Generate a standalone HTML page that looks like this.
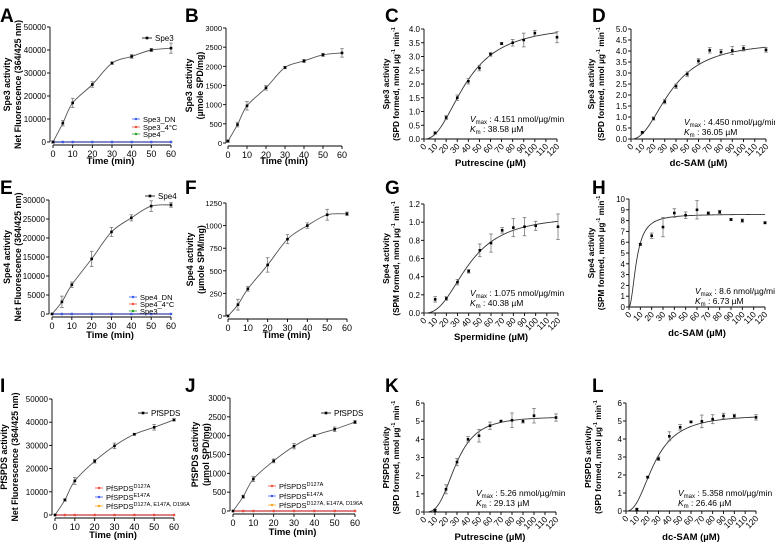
<!DOCTYPE html>
<html><head><meta charset="utf-8"><style>
html,body{margin:0;padding:0;background:#fff}
svg{display:block;font-family:"Liberation Sans",Arial,sans-serif}
</style></head><body>
<svg id="fig" width="775" height="543" viewBox="0 0 775 543" xmlns="http://www.w3.org/2000/svg"></svg>
<script>
// ---- data ----
const timeCats = [0,5,10,20,30,40,50,60];
const concCats = [10,20,30,40,50,60,70,80,90,100,120];
const aVals = [0,8200,17000,25000,34300,37200,40000,40800];
const aErr  = [500,1200,2000,1200,500,800,700,2200];
const bVals = [50,480,970,1440,1970,2140,2300,2350];
const bErr  = [30,60,110,60,30,40,40,110];
const cVals = [0.22,0.78,1.5,2.1,2.58,3.08,3.47,3.5,3.6,3.85,3.7];
const cErr  = [0.04,0.07,0.1,0.1,0.1,0.07,0.04,0.12,0.25,0.1,0.2];
const dVals = [0.3,0.93,1.7,2.4,2.95,3.55,4.03,3.95,4.02,4.12,4.05];
const dErr  = [0.05,0.07,0.1,0.1,0.1,0.1,0.12,0.12,0.18,0.12,0.1];
const eVals = [0,3200,7700,14500,21600,25300,28400,28700];
const eErr  = [0,1500,700,2000,1200,800,1400,600];
const fVals = [0,125,300,565,850,1000,1120,1130];
const fErr  = [0,60,25,80,50,30,60,20];
const gVals = [0.15,0.16,0.34,0.46,0.69,0.77,0.91,0.94,0.95,0.96,0.95];
const gErr  = [0.03,0.02,0.03,0.02,0.07,0.1,0.03,0.1,0.1,0.05,0.14];
const hVals = [5.8,6.6,7.4,8.7,8.5,9.0,8.7,8.8,8.1,8.0,7.8];
const hErr  = [0.1,0.25,0.9,0.4,0.3,0.85,0.1,0.15,0.1,0.15,0.1];
const iVals = [0,6500,14700,23200,29800,34800,37800,41000];
const iErr  = [0,500,1500,800,1200,400,1200,500];
const jVals = [0,380,850,1330,1720,2000,2170,2360];
const jErr  = [0,40,70,50,70,20,60,40];
const kVals = [0.1,1.25,2.75,4.0,4.2,4.75,5.0,5.05,5.0,5.3,5.2];
const kErr  = [0.05,0.25,0.2,0.15,0.35,0.2,0.05,0.4,0.1,0.4,0.2];
const lVals = [0.1,1.88,2.9,4.15,4.65,4.95,4.98,5.1,5.28,5.28,5.2];
const lErr  = [0.05,0.05,0.1,0.25,0.15,0.05,0.35,0.25,0.15,0.1,0.15];
// fit parameters (Vmax, Km, Hill)
const cFit = [4.151,38.58,2.3];
const dFit = [4.45,36.05,2.25];
const gFit = [1.075,40.38,2.5];
const hFit = [8.6,6.73,2.0];
const kFit = [5.26,29.13,3.1];
const lFit = [5.358,26.46,2.4];
// tick labels
const yTicks50k = [0,10000,20000,30000,40000,50000];
const yTicks3k = [0,500,1000,1500,2000,2500,3000];
const yTicksC = [0,0.5,1,1.5,2,2.5,3,3.5,4];
const yTicksD = [0,0.5,1,1.5,2,2.5,3,3.5,4,4.5,5];
const yTicksE = [0,5000,10000,15000,20000,25000,30000];
const yTicksF = [0,250,500,750,1000,1250];
const yTicksG = [0,0.2,0.4,0.6,0.8,1.0,1.2];
const yTicksH = [0,1,2,3,4,5,6,7,8,9,10];
const yTicks6 = [0,1,2,3,4,5,6];
const xTicksTime = [0,10,20,30,40,50,60];
const xTicksConc = [0,10,20,30,40,50,60,70,80,90,100,110,120];

const NS='http://www.w3.org/2000/svg';
const svg=document.getElementById('fig');
function mk(tag,attrs,parent,text){const e=document.createElementNS(NS,tag);for(const k in attrs)e.setAttribute(k,attrs[k]);if(text!==undefined)e.textContent=text;(parent||svg).appendChild(e);return e;}

function smoothPath(pts){
  let d='M'+pts[0][0]+','+pts[0][1];
  for(let i=0;i<pts.length-1;i++){
    const p0=pts[Math.max(0,i-1)],p1=pts[i],p2=pts[i+1],p3=pts[Math.min(pts.length-1,i+2)];
    const c1x=p1[0]+(p2[0]-p0[0])/6,c1y=p1[1]+(p2[1]-p0[1])/6;
    const c2x=p2[0]-(p3[0]-p1[0])/6,c2y=p2[1]-(p3[1]-p1[1])/6;
    d+=' C'+c1x+','+c1y+' '+c2x+','+c2y+' '+p2[0]+','+p2[1];
  }
  return d;
}

function panel(p){
  const g=mk('g',{});
  
  
  const X=v=>p.x0+v/p.xmax*(p.x1-p.x0);
  const Y=v=>p.y0-v/p.ymax*(p.y0-p.y1);
  const lt=mk('text',{x:p.lx,y:p.ly,'font-size':19,'font-weight':'bold'},g,p.id);
  
  
  const ax=p.ax;
  const ya=mk('g',{},g);
  
  
  mk('line',{x1:ax,y1:Y(0),x2:ax,y2:Y(p.ymax),stroke:'#000','stroke-width':0.9},ya);
  p.yt.forEach(v=>{
    mk('line',{x1:ax-3,y1:Y(v),x2:ax,y2:Y(v),stroke:'#000','stroke-width':0.9},ya);
    mk('text',{x:ax-4,y:Y(v)+3,'font-size':p.yfs||8,'text-anchor':'end'},ya,p.fmt?p.fmt(v):String(v));
  });
  const xa=mk('g',{},g);
  
  
  const xy=p.kin?p.y0:p.y0+3;
  mk('line',{x1:p.kin?ax:X(0),y1:xy,x2:X(p.xmax),y2:xy,stroke:'#000','stroke-width':0.9},xa);
  p.xt.forEach(v=>{
    mk('line',{x1:X(v),y1:xy,x2:X(v),y2:xy+3,stroke:'#000','stroke-width':0.9},xa);
    if(p.kin){
      mk('text',{x:X(v)+3,y:xy+8,'font-size':8.5,'text-anchor':'end',transform:'rotate(-45 '+(X(v)+3)+' '+(xy+8)+')'},xa,String(v));
    } else {
      mk('text',{x:X(v),y:xy+12,'font-size':9,'text-anchor':'middle'},xa,String(v));
    }
  });
  const xt=mk('text',{x:(ax+X(p.xmax))/2,y:p.xty,'font-size':9.5,'font-weight':'bold','text-anchor':'middle'},g,p.xtitle);
  
  
  const ym=(Y(0)+Y(p.ymax))/2;
  const yt=mk('g',{},g);
  
  
  const tfs=p.kin?8.3:8.8;
  mk('text',{x:p.t1,y:ym,'font-size':tfs,'font-weight':'bold','text-anchor':'middle',transform:'rotate(-90 '+p.t1+' '+ym+')'},yt,p.ytitle1);
  const t2=mk('text',{x:p.t2,y:ym,'font-size':tfs,'font-weight':'bold','text-anchor':'middle',transform:'rotate(-90 '+p.t2+' '+ym+')'},yt);
  if(p.kin){
    mk('tspan',{},t2,p.ytitle2);
    mk('tspan',{'font-size':5.5,dy:-4},t2,'-1');
    mk('tspan',{dy:4},t2,' min');
    mk('tspan',{'font-size':5.5,dy:-4},t2,'-1');
  } else t2.textContent=p.ytitle2;
  let pts=[];
  if(p.fit){
    const [V,K,h]=p.fit;
    for(let s=0;s<=120;s+=1){const v=V*Math.pow(s,h)/(Math.pow(K,h)+Math.pow(s,h));pts.push([X(s),Y(v)]);}
    const c=mk('polyline',{points:pts.map(q=>q.join(',')).join(' '),fill:'none',stroke:'#333','stroke-width':0.9},g);
    
    
  } else {
    pts=p.cats.map((c,i)=>[X(c),Y(p.vals[i])]);
    const c=mk('path',{d:smoothPath(pts),fill:'none',stroke:'#555','stroke-width':0.9},g);
    
    
  }
  if(p.ctrl){
    p.ctrl.forEach(cc=>{
      mk('line',{x1:X(0),y1:Y(0),x2:X(60),y2:Y(0),stroke:cc,'stroke-width':1.2,opacity:0.85},g);
      p.cats.forEach(c=>mk('rect',{x:X(c)-1.1,y:Y(0)-1.1,width:2.2,height:2.2,fill:cc},g));
    });
  }
  p.cats.forEach((c,i)=>{
    const px=X(c),py=Y(p.vals[i]),e=p.err[i];
    const pg=mk('g',{},g);
    
    
    if(e>0){
      const ya1=Y(p.vals[i]+e),ya2=Y(p.vals[i]-e);
      mk('line',{x1:px,y1:ya1,x2:px,y2:ya2,stroke:'#777','stroke-width':0.8},pg);
      mk('line',{x1:px-1.8,y1:ya1,x2:px+1.8,y2:ya1,stroke:'#777','stroke-width':0.8},pg);
      mk('line',{x1:px-1.8,y1:ya2,x2:px+1.8,y2:ya2,stroke:'#777','stroke-width':0.8},pg);
    }
    mk('rect',{x:px-1.3,y:py-1.3,width:2.6,height:2.6,fill:'#000'},pg);
  });
  if(p.ann){
    const a=mk('g',{'font-size':8.5},g);
    
    
    const t1=mk('text',{x:p.ann[0],y:p.ann[1]},a);
    mk('tspan',{'font-style':'italic'},t1,'V');
    mk('tspan',{'font-size':6,dy:2},t1,'max');
    mk('tspan',{dy:-2},t1,' : '+p.ann[2]+' nmol/µg/min');
    const t2=mk('text',{x:p.ann[0],y:p.ann[1]+10},a);
    mk('tspan',{'font-style':'italic'},t2,'K');
    mk('tspan',{'font-size':6,dy:2},t2,'m');
    mk('tspan',{dy:-2},t2,' : '+p.ann[3]+' µM');
  }
  if(p.leg){
    const lg=mk('g',{'font-size':8},g);
    
    
    const [mx,my,name]=p.leg.main;
    mk('line',{x1:mx-5,y1:my,x2:mx+5,y2:my,stroke:'#000','stroke-width':0.8},lg);
    mk('rect',{x:mx-1.3,y:my-1.3,width:2.6,height:2.6,fill:'#000'},lg);
    mk('text',{x:mx+8,y:my+3},lg,name);
    p.leg.items.forEach(it=>{
      const [ix,iy,col,txt,sup]=it;
      mk('line',{x1:ix-4,y1:iy,x2:ix+4,y2:iy,stroke:col,'stroke-width':0.8},lg);
      mk('rect',{x:ix-1.1,y:iy-1.1,width:2.2,height:2.2,fill:col},lg);
      const t=mk('text',{x:ix+7,y:iy+3,'font-size':7.5},lg,txt);
      if(sup) mk('tspan',{'font-size':5.5,dy:-3},t,sup);
    });
  }
}
const kfmt1=v=>v.toFixed(1);
const timeBase={xmax:60,xt:xTicksTime,cats:timeCats,xtitle:'Time (min)'};
const kinBase={kin:true,xmax:120,xt:xTicksConc,cats:concCats};
const BLUE='#3b5cf0',RED='#f0503c',GREEN='#2ca02c',ORANGE='#f5a623';

panel(Object.assign({},timeBase,{id:'A',lx:0,ly:22,ax:50,x0:53,x1:171,y0:142,y1:27,ymax:50000,yt:yTicks50k,vals:aVals,err:aErr,xty:164,t1:10,t2:21,ytitle1:'Spe3 activity',ytitle2:'Net Fluorescence (364/425 nm)',ctrl:[GREEN,RED,BLUE],
  leg:{main:[147,38,'Spe3'],items:[[136,119,BLUE,'Spe3_DN'],[136,127,RED,'Spe3_4°C'],[136,134,GREEN,'Spe4']]}}));
panel(Object.assign({},timeBase,{id:'B',lx:185,ly:22,ax:226,x0:228,x1:342,y0:143,y1:28,ymax:3000,yt:yTicks3k,vals:bVals,err:bErr,xty:164,t1:192,t2:203,ytitle1:'Spe3 activity',ytitle2:'(µmole SPD/mg)',yfs:7.5}));
panel(Object.assign({},kinBase,{id:'C',lx:385,ly:22,ax:424,x0:424,x1:557,y0:139,y1:29,ymax:4,yt:yTicksC,fmt:kfmt1,vals:cVals,err:cErr,fit:cFit,xty:166,t1:389,t2:399,ytitle1:'Spe3 activity',ytitle2:'(SPD formed, nmol µg',xtitle:'Putrescine (µM)',ann:[470,122,'4.151','38.58']}));
panel(Object.assign({},kinBase,{id:'D',lx:592,ly:22,ax:631,x0:631,x1:766,y0:139,y1:29,ymax:5,yt:yTicksD,fmt:kfmt1,vals:dVals,err:dErr,fit:dFit,xty:166,t1:594,t2:604,ytitle1:'Spe3 activity',ytitle2:'(SPD formed, nmol µg',xtitle:'dc-SAM (µM)',ann:[684,125,'4.450','36.05']}));

panel(Object.assign({},timeBase,{id:'E',lx:0,ly:194,ax:49,x0:52,x1:171,y0:314,y1:200,ymax:30000,yt:yTicksE,vals:eVals,err:eErr,xty:338,t1:10,t2:21,ytitle1:'Spe4 activity',ytitle2:'Net Fluorescence (364/425 nm)',ctrl:[GREEN,RED,BLUE],
  leg:{main:[150,196,'Spe4'],items:[[133,297,BLUE,'Spe4_DN'],[133,304,RED,'Spe4_4°C'],[133,311,GREEN,'Spe3']]}}));
panel(Object.assign({},timeBase,{id:'F',lx:185,ly:194,ax:226,x0:228,x1:347,y0:316,y1:203,ymax:1250,yt:yTicksF,vals:fVals,err:fErr,xty:338,t1:193,t2:204,ytitle1:'Spe4 activity',ytitle2:'(µmole SPM/mg)',yfs:7.5}));
panel(Object.assign({},kinBase,{id:'G',lx:385,ly:194,ax:424,x0:424,x1:558,y0:313,y1:204,ymax:1.2,yt:yTicksG,fmt:kfmt1,vals:gVals,err:gErr,fit:gFit,xty:340,t1:389,t2:399,ytitle1:'Spe4 activity',ytitle2:'(SPM formed, nmol µg',xtitle:'Spermidine (µM)',ann:[470,296,'1.075','40.38']}));
panel(Object.assign({},kinBase,{id:'H',lx:592,ly:194,ax:629,x0:629,x1:765,y0:307,y1:199,ymax:10,yt:yTicksH,vals:hVals,err:hErr,fit:hFit,xty:336,t1:594,t2:604,ytitle1:'Spe4 activity',ytitle2:'(SPM formed, nmol µg',xtitle:'dc-SAM (µM)',ann:[695,294,'8.6','6.73']}));

panel(Object.assign({},timeBase,{id:'I',lx:0,ly:392,ax:52,x0:55,x1:174,y0:515,y1:399,ymax:50000,yt:yTicks50k,vals:iVals,err:iErr,xty:538,t1:7,t2:18,ytitle1:'PfSPDS activity',ytitle2:'Net Fluorescence (364/425 nm)',ctrl:[ORANGE,BLUE,RED],
  leg:{main:[143,413,'PfSPDS'],items:[[99,488,RED,'PfSPDS','D127A'],[99,497,BLUE,'PfSPDS','E147A'],[99,506,ORANGE,'PfSPDS','D127A, E147A, D196A']]}}));
panel(Object.assign({},timeBase,{id:'J',lx:185,ly:392,ax:230,x0:233,x1:355,y0:511,y1:398,ymax:3000,yt:yTicks3k,vals:jVals,err:jErr,xty:535,t1:198,t2:209,ytitle1:'PfSPDS activity',ytitle2:'(µmol SPD/mg)',ctrl:[ORANGE,BLUE,RED],
  leg:{main:[326,413,'PfSPDS'],items:[[272,486,RED,'PfSPDS','D127A'],[272,496,BLUE,'PfSPDS','E147A'],[272,505,ORANGE,'PfSPDS','D127A, E147A, D196A']]}}));
panel(Object.assign({},kinBase,{id:'K',lx:385,ly:392,ax:424,x0:424,x1:556,y0:512,y1:403,ymax:6,yt:yTicks6,vals:kVals,err:kErr,fit:kFit,xty:540,t1:389,t2:399,ytitle1:'PfSPDS activity',ytitle2:'(SPD formed, nmol µg',xtitle:'Putrescine (µM)',ann:[476,496,'5.26','29.13']}));
panel(Object.assign({},kinBase,{id:'L',lx:592,ly:392,ax:626,x0:626,x1:756,y0:511,y1:403,ymax:6,yt:yTicks6,vals:lVals,err:lErr,fit:lFit,xty:540,t1:591,t2:601,ytitle1:'PfSPDS activity',ytitle2:'(SPD formed, nmol µg',xtitle:'dc-SAM (µM)',ann:[678,496,'5.358','26.46']}));
</script>
</body></html>
